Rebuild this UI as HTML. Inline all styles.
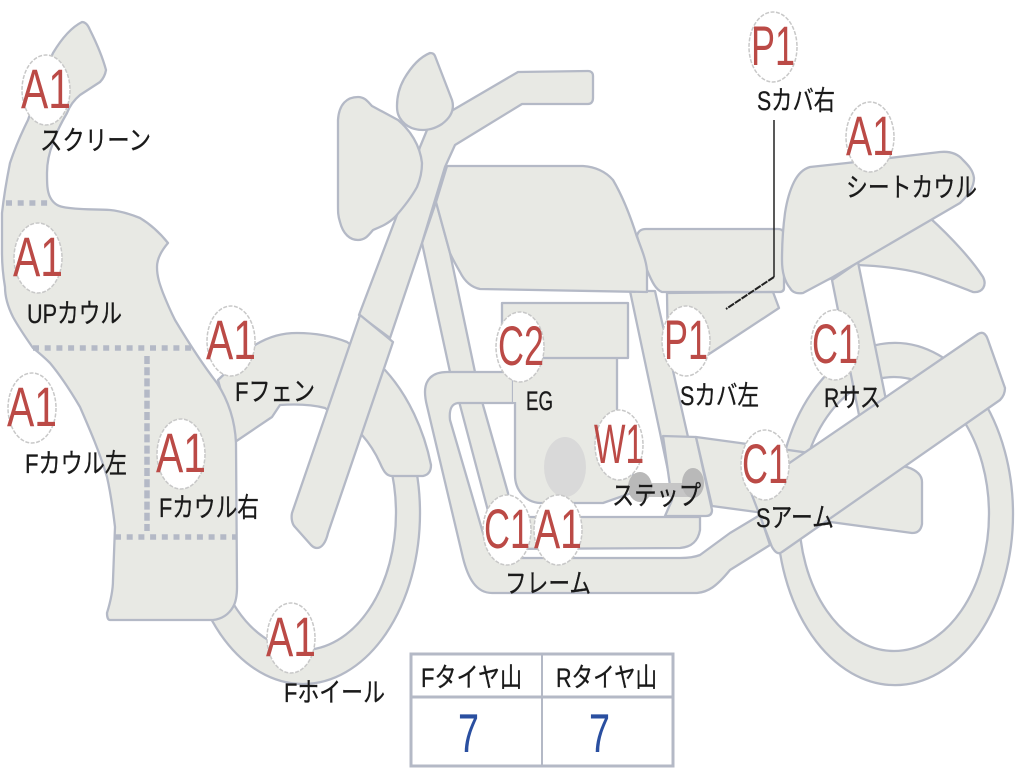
<!DOCTYPE html>
<html><head><meta charset="utf-8"><style>
html,body{margin:0;padding:0;background:#fff}
svg{display:block}
.s{fill:#e8e9e4;stroke:#b4b9c6;stroke-width:2.3;stroke-linejoin:round}
.d{fill:none;stroke:#b4b9c6;stroke-width:5.5}
.c{fill:#fff;stroke:#c8c8c8;stroke-width:1.5;stroke-dasharray:4 1.5}
.r{font-family:"Liberation Sans",sans-serif;font-size:56px;fill:#bb4a46}
.j{font-family:"Liberation Sans","Noto Sans CJK JP",sans-serif;font-size:27px;fill:#1a1a1a;stroke:#1a1a1a;stroke-width:.3}
</style></head><body>
<svg width="1024" height="768" viewBox="0 0 1024 768" xmlns="http://www.w3.org/2000/svg">
<!-- wheels -->
<path class="s" fill-rule="evenodd" d="M777,514a118,171 0 1,0 236,0a118,171 0 1,0 -236,0zM799,514a95,137 0 1,0 190,0a95,137 0 1,0 -190,0z"/>
<path class="s" fill-rule="evenodd" d="M186,513a117,171 0 1,0 234,0a117,171 0 1,0 -234,0zM210,513a93,137 0 1,0 186,0a93,137 0 1,0 -186,0z"/>
<!-- rear fender + shock -->
<path class="s" d="M930,218C952,238 972,260 983,277C987,285 983,293 973,292C955,285 938,278 920,273C900,268 880,266 858,265L832,278L800,290Z"/>
<path class="s" d="M832,280L858,262L886,400L860,420Z"/>
<!-- front fender -->
<path class="s" d="M218,380L255,345C270,336 283,333 297,333C315,333 332,336 347,342L385,370C408,395 424,430 431,465C431,472 428,475 423,476L392,476C386,476 383,470 380,463C375,452 370,444 362,435L325,408C310,404 295,404 280,405L272,417L235,442Z"/>
<!-- frame tube down -->
<path class="s" d="M422,243L436,202L450,253L475,372L483,405L508,493L515,540L495,540L487,507L460,405L450,372Z"/>
<!-- lower tube -->
<path class="s" d="M487,517L700,517L700,530C698,541 692,547 680,548L495,549Z"/>
<!-- outer pipe -->
<path class="s" d="M513,372L447,372C432,372 425,380 425,392C425,397 426,402 427,406L463,558C468,578 476,593 492,593L697,593C708,592 716,587 730,570L770,545L760,515L730,533L700,555C695,557 690,558 680,558L500,558C492,556 487,548 483,533L450,420C449,410 451,404 458,403L513,403Z"/>
<!-- engine -->
<path class="s" d="M515,355L617,355L617,440L640,490L603,503L540,503C525,502 515,490 515,475Z"/>
<rect x="513" y="374" width="4" height="28" fill="#e8e9e4"/>
<rect class="s" x="502" y="303" width="126" height="55"/>
<ellipse cx="565" cy="467" rx="21" ry="30" fill="#d9d9d9"/>
<!-- seat -->
<path class="s" d="M637,236C638,231 641,229 646,229L778,229C782,229 784,231 784,235L784,288C784,291 782,292 779,292L662,292C656,290 652,282 647,270Z"/>
<!-- side cover -->
<path class="s" d="M667,293L773,292L779,308L700,360L668,360Z"/>
<!-- right frame + step plate -->
<path class="s" d="M630,291L655,291L688,437L670,480Z"/>
<path class="s" d="M663,436L696,437L712,510C712,514 710,516 706,516L665,516L672,500Z"/>
<path class="s" d="M696,437L740,443L907,467C916,470 922,475 922,482L922,524C921,530 918,533 912,533L712,506Z"/>
<rect x="640" y="483" width="52" height="14" fill="#c6c6c6"/>
<ellipse cx="640" cy="487" rx="12" ry="15" fill="#b9b9b9"/>
<ellipse cx="693" cy="483" rx="11" ry="15" fill="#b9b9b9"/>
<!-- swingarm -->
<path class="s" d="M750,490L978,334C983,331 986,334 988,340L1005,388C1005,393 1003,397 1000,400L782,552C778,555 775,552 772,547Z"/>
<!-- tank -->
<path class="s" d="M447,166L583,166C597,167 606,172 613,180C623,197 631,218 637,237C642,250 646,260 647,270L647,292L480,289C470,287 464,280 460,272C456,265 452,258 450,253L436,202Z"/>
<!-- stem + handlebar -->
<path class="s" d="M359,315L397,215L420,147L427,130L453,110L518,72L588,71C591,71 593,73 593,76L593,98C593,102 591,104 588,104L522,104L455,145L445,167L422,243L390,338Z"/>
<!-- fork lower -->
<path class="s" d="M360,315L393,342L328,533C326,542 322,548 317,548C315,548 313,547 311,545L295,527C292,524 291,518 292,513Z"/>
<!-- headlight -->
<path class="s" d="M338,120C339,104 347,97 358,97C365,97 368,102 372,106L398,120C410,130 420,145 422,163C422,172 420,180 417,187C411,198 403,208 395,217C388,224 380,227 373,230C368,236 365,240 358,240C350,240 343,234 340,222C338,216 338,212 338,205Z"/>
<!-- meter -->
<path class="s" d="M430,53C433,53 434,54 435,56L452,100C455,110 450,118 442,124C436,128 430,130 423,130C415,130 408,128 402,121C398,116 397,112 397,106C397,98 399,88 404,79C411,67 420,57 430,53Z"/>
<!-- seat cowl -->
<path class="s" d="M810,167L847,163L940,152C950,151 958,154 963,160C968,165 973,170 974,178C974,186 970,194 960,203L833,277L803,293C796,294 792,292 790,288C785,282 782,272 782,260C782,243 783,228 785,213C787,200 790,190 794,182C798,174 803,169 810,167Z"/>
<!-- cowl -->
<path class="s" d="M82,22C85,22 88,25 90,30C96,42 102,55 106,70C105,76 103,79 100,82L80,95C74,100 70,105 67,113C60,125 56,133 53,143C49,153 47,163 47,173C47,183 47,191 50,197C53,203 57,206 63,207C77,210 92,209 110,210C120,211 130,214 140,218C150,224 160,233 168,243C162,250 157,258 157,267C157,277 160,285 163,293C167,303 171,312 175,320C190,345 203,365 217,383C228,400 235,420 236,443L237,587C237,596 236,602 233,607C229,614 222,619 213,620L110,620C108,620 107,617 107,613C111,600 113,590 113,580L115,527C113,510 110,490 107,477C100,453 90,430 80,407C70,390 60,375 50,363C44,357 38,352 33,348C26,338 19,328 13,317C8,307 5,297 5,287C3,275 2,265 2,253L2,213C4,195 7,178 10,163C15,148 21,134 28,120C35,100 43,75 53,53C62,38 72,27 82,22Z"/>
<line class="d" stroke-dasharray="6 5.7" x1="6" y1="203" x2="50" y2="203"/>
<line class="d" stroke-dasharray="6 5.7" x1="33" y1="348" x2="192" y2="348"/>
<line class="d" stroke-dasharray="8 3.2" x1="147" y1="356" x2="147" y2="531"/>
<line class="d" stroke-dasharray="6 5.7" x1="115" y1="537" x2="236" y2="537"/>
<!-- leader -->
<path d="M774,120L774,277" stroke="#222" stroke-width="1.5" fill="none"/>
<path d="M774,277L726,309" stroke="#222" stroke-width="2" stroke-dasharray="7 1" fill="none"/>
<!-- badges -->
<ellipse class="c" cx="46" cy="90" rx="24" ry="35"/><text class="r" x="21" y="108" textLength="50" lengthAdjust="spacingAndGlyphs">A1</text>
<ellipse class="c" cx="38" cy="258" rx="24" ry="35"/><text class="r" x="13" y="276" textLength="50" lengthAdjust="spacingAndGlyphs">A1</text>
<ellipse class="c" cx="32" cy="408" rx="24" ry="35"/><text class="r" x="7" y="426" textLength="50" lengthAdjust="spacingAndGlyphs">A1</text>
<ellipse class="c" cx="181" cy="454" rx="24" ry="35"/><text class="r" x="156" y="472" textLength="50" lengthAdjust="spacingAndGlyphs">A1</text>
<ellipse class="c" cx="231" cy="341" rx="24" ry="35"/><text class="r" x="206" y="359" textLength="50" lengthAdjust="spacingAndGlyphs">A1</text>
<ellipse class="c" cx="291" cy="638" rx="24" ry="35"/><text class="r" x="266" y="656" textLength="50" lengthAdjust="spacingAndGlyphs">A1</text>
<ellipse class="c" cx="520" cy="347" rx="24" ry="35"/><text class="r" x="498" y="365" textLength="46" lengthAdjust="spacingAndGlyphs">C2</text>
<ellipse class="c" cx="686" cy="341" rx="24" ry="35"/><text class="r" x="664" y="359" textLength="44" lengthAdjust="spacingAndGlyphs">P1</text>
<ellipse class="c" cx="619" cy="445" rx="24" ry="35"/><text class="r" x="594" y="463" textLength="50" lengthAdjust="spacingAndGlyphs">W1</text>
<ellipse class="c" cx="507" cy="530" rx="24" ry="35"/><text class="r" x="484" y="548" textLength="46" lengthAdjust="spacingAndGlyphs">C1</text>
<ellipse class="c" cx="558" cy="530" rx="24" ry="35"/><text class="r" x="534" y="548" textLength="48" lengthAdjust="spacingAndGlyphs">A1</text>
<ellipse class="c" cx="765" cy="465" rx="24" ry="35"/><text class="r" x="742" y="483" textLength="46" lengthAdjust="spacingAndGlyphs">C1</text>
<ellipse class="c" cx="835" cy="345" rx="24" ry="35"/><text class="r" x="812" y="363" textLength="46" lengthAdjust="spacingAndGlyphs">C1</text>
<ellipse class="c" cx="773" cy="47" rx="24" ry="35"/><text class="r" x="751" y="65" textLength="44" lengthAdjust="spacingAndGlyphs">P1</text>
<ellipse class="c" cx="870" cy="137" rx="24" ry="35"/><text class="r" x="846" y="155" textLength="48" lengthAdjust="spacingAndGlyphs">A1</text>
<!-- labels -->
<text class="j" x="40" y="150" textLength="111" lengthAdjust="spacingAndGlyphs">スクリーン</text>
<text class="j" x="27" y="323" textLength="95" lengthAdjust="spacingAndGlyphs">UPカウル</text>
<text class="j" x="235" y="401" textLength="80" lengthAdjust="spacingAndGlyphs">Fフェン</text>
<text class="j" x="25" y="473" textLength="102" lengthAdjust="spacingAndGlyphs">Fカウル左</text>
<text class="j" x="159" y="517" textLength="100" lengthAdjust="spacingAndGlyphs">Fカウル右</text>
<text class="j" x="526" y="410" textLength="27" lengthAdjust="spacingAndGlyphs">EG</text>
<text class="j" x="680" y="405" textLength="79" lengthAdjust="spacingAndGlyphs">Sカバ左</text>
<text class="j" x="824" y="407" textLength="57" lengthAdjust="spacingAndGlyphs">Rサス</text>
<text class="j" x="612" y="505" textLength="89" lengthAdjust="spacingAndGlyphs">ステップ</text>
<text class="j" x="505" y="593" textLength="86" lengthAdjust="spacingAndGlyphs">フレーム</text>
<text class="j" x="756" y="527" textLength="78" lengthAdjust="spacingAndGlyphs">Sアーム</text>
<text class="j" x="284" y="702" textLength="101" lengthAdjust="spacingAndGlyphs">Fホイール</text>
<text class="j" x="757" y="110" textLength="78" lengthAdjust="spacingAndGlyphs">Sカバ右</text>
<text class="j" x="846" y="197" textLength="131" lengthAdjust="spacingAndGlyphs">シートカウル</text>
<!-- table -->
<rect x="411" y="654" width="262" height="112" fill="#fff" stroke="#b4b9c6" stroke-width="3"/>
<line x1="411" y1="697" x2="673" y2="697" stroke="#b4b9c6" stroke-width="3"/>
<line x1="542" y1="654" x2="542" y2="766" stroke="#b4b9c6" stroke-width="2"/>
<text class="j" x="421" y="687" textLength="101" lengthAdjust="spacingAndGlyphs">Fタイヤ山</text>
<text class="j" x="556" y="687" textLength="101" lengthAdjust="spacingAndGlyphs">Rタイヤ山</text>
<text x="458" y="752" font-family="Liberation Sans,sans-serif" font-size="55" fill="#2a4fa0" textLength="21" lengthAdjust="spacingAndGlyphs">7</text>
<text x="589" y="752" font-family="Liberation Sans,sans-serif" font-size="55" fill="#2a4fa0" textLength="21" lengthAdjust="spacingAndGlyphs">7</text>
</svg>
</body></html>
